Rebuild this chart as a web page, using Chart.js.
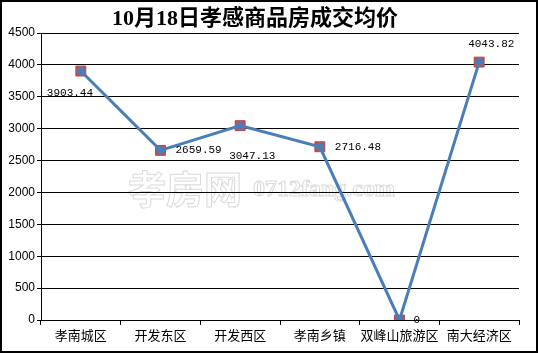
<!DOCTYPE html>
<html>
<head>
<meta charset="utf-8">
<script src="https://cdn.jsdelivr.net/npm/chart.js@4/dist/chart.umd.min.js"></script>
<style>
  html, body { margin: 0; padding: 0; background: #fff; }
  #wrap { width: 538px; height: 353px; position: relative; }
</style>
</head>
<body>
<div id="wrap"><canvas id="priceChart"></canvas></div>
<script>
const titleText = "10月18日孝感商品房成交均价";
const categories = ["孝南城区", "开发东区", "开发西区", "孝南乡镇", "双峰山旅游区", "南大经济区"];
const prices = [3903.44, 2659.59, 3047.13, 2716.48, 0, 4043.82];
const yMin = 0;
const yMax = 4500;
const yStep = 500;

// where each value label sits relative to its point (left aligned, middle baseline)
const labelOffsets = [[-34, 22], [15, 0], [-11, 30], [15, 0], [14, 0], [-11, -18]];

const decor = {
  id: "decor",
  beforeDraw(chart) {
    const c = chart.ctx;
    c.save();
    c.fillStyle = "#fff";
    c.fillRect(0, 0, chart.width, chart.height);
    // watermark
    c.strokeStyle = "#dadada";
    c.lineWidth = 1;
    c.textBaseline = "middle";
    c.textAlign = "left";
    c.font = "bold 38px 'Noto Sans CJK SC'";
    c.strokeText("孝房网", 128, 189);
    c.font = "bold 24px 'Liberation Serif'";
    c.strokeText("0712fang.com", 253, 190);
    c.restore();
  },
  afterDraw(chart) {
    const c = chart.ctx;
    c.save();
    c.fillStyle = "#000";
    c.textAlign = "center";
    c.textBaseline = "middle";
    c.font = "bold 22px 'Liberation Serif', 'Noto Sans CJK SC'";
    c.fillText(titleText, 255, 19);
    c.strokeStyle = "#000";
    c.lineWidth = 2;
    c.strokeRect(1, 1, chart.width - 2, chart.height - 2);
    c.restore();
  },
  afterDatasetsDraw(chart) {
    const c = chart.ctx;
    const meta = chart.getDatasetMeta(1);
    c.save();
    c.fillStyle = "#000";
    c.font = "11px 'Liberation Mono'";
    c.textAlign = "left";
    c.textBaseline = "middle";
    meta.data.forEach((pt, i) => {
      const txt = prices[i] === 0 ? "0" : prices[i].toFixed(2);
      c.fillText(txt, pt.x + labelOffsets[i][0], pt.y + labelOffsets[i][1]);
    });
    c.restore();
  }
};

new Chart(document.getElementById("priceChart"), {
  type: "line",
  data: {
    labels: categories,
    datasets: [
      {
        data: prices,
        borderColor: "#4A7EBB",
        borderWidth: 3,
        pointStyle: "rectRot",
        pointRadius: 5,
        pointBackgroundColor: "#4A7EBB",
        pointBorderColor: "#4A7EBB",
        pointBorderWidth: 0,
        tension: 0,
        order: 1
      },
      {
        data: prices,
        showLine: false,
        pointStyle: "rect",
        pointRadius: 7,
        pointBackgroundColor: "#C0504D",
        pointBorderColor: "#B84845",
        pointBorderWidth: 1,
        order: 2
      }
    ]
  },
  options: {
    responsive: true,
    maintainAspectRatio: false,
    animation: false,
    layout: { padding: { left: 0, right: 19, top: 33, bottom: 0 } },
    plugins: {
      legend: { display: false },
      title: { display: false },
      tooltip: { enabled: false }
    },
    scales: {
      x: {
        offset: true,
        afterFit(scale) { scale.height = 33; },
        grid: {
          offset: true,
          drawOnChartArea: false,
          drawTicks: true,
          tickLength: 5,
          color: "#000"
        },
        border: { color: "#000", width: 1 },
        ticks: {
          color: "#000",
          font: { family: "'Noto Sans CJK SC'", size: 13 },
          padding: 2,
          maxRotation: 0,
          autoSkip: false
        }
      },
      y: {
        min: yMin,
        max: yMax,
        afterFit(scale) { scale.width = 41; },
        grid: {
          color: "#000",
          lineWidth: 1,
          tickLength: 4
        },
        border: { color: "#000", width: 1 },
        ticks: {
          stepSize: yStep,
          color: "#000",
          font: { family: "'Liberation Sans'", size: 12 },
          padding: 2,
          callback: (v) => String(v)
        }
      }
    }
  },
  plugins: [decor]
});
</script>
</body>
</html>
